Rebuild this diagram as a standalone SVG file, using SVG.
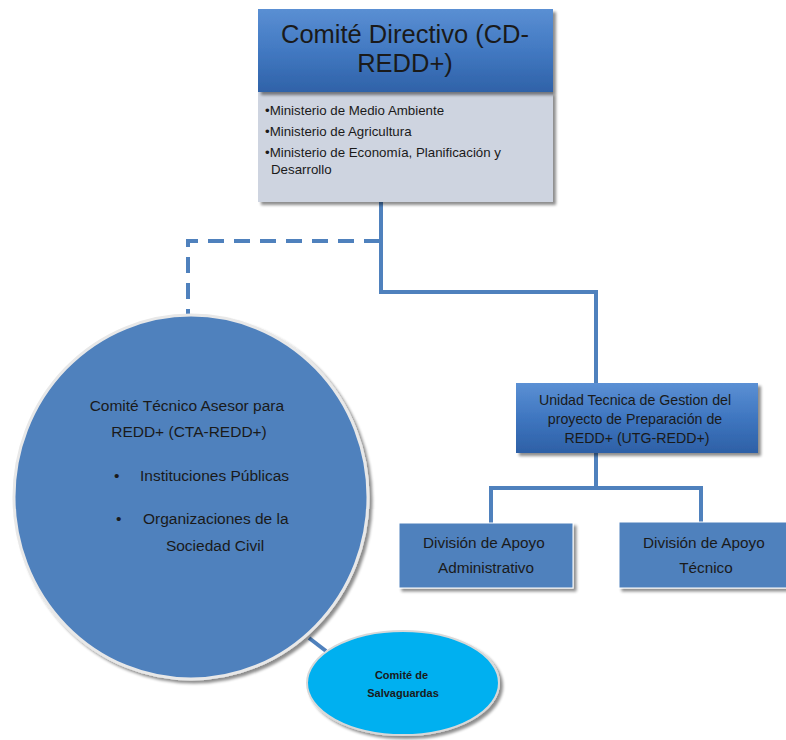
<svg xmlns="http://www.w3.org/2000/svg" width="786" height="740" viewBox="0 0 786 740">
<defs>
<linearGradient id="hdr" x1="0" y1="0" x2="0" y2="1">
<stop offset="0" stop-color="#5a8fd3"/>
<stop offset="0.5" stop-color="#4279c2"/>
<stop offset="1" stop-color="#2f62a8"/>
</linearGradient>
<linearGradient id="utg" x1="0" y1="0" x2="0" y2="1">
<stop offset="0" stop-color="#5b90d4"/>
<stop offset="0.5" stop-color="#3f76c0"/>
<stop offset="1" stop-color="#2d60a6"/>
</linearGradient>
<filter id="sh" x="-10%" y="-10%" width="130%" height="130%">
<feGaussianBlur in="SourceAlpha" stdDeviation="1.5"/>
<feOffset dx="3" dy="3" result="b"/>
<feComponentTransfer><feFuncA type="linear" slope="0.45"/></feComponentTransfer>
<feMerge><feMergeNode/><feMergeNode in="SourceGraphic"/></feMerge>
</filter>
</defs>
<style>
.t{font-family:"Liberation Sans",Arial,sans-serif;fill:#1a1a1a}
.c{stroke:#4f81bd;stroke-width:4;fill:none}
.blue{fill:#4f81bd}
</style>
<g id="connectors">
<path class="c" d="M381 202 V292 H596 V383"/>
<path class="c" d="M380 241 H188 V315" stroke-dasharray="16,10"/>
<path class="c" d="M596 453 V488 M491 523 V488 H701 V523"/>
<path class="c" d="M309 638 L326 651"/>
</g>
<g id="cd-redd">
<rect x="258" y="92" width="295" height="110" fill="#ced4e0" filter="url(#sh)"/>
<rect x="258" y="9" width="295" height="83" fill="url(#hdr)" filter="url(#sh)"/>
<text class="t" x="405" y="43" font-size="25.5" text-anchor="middle">Comité Directivo (CD-</text>
<text class="t" x="405" y="72" font-size="25.5" text-anchor="middle">REDD+)</text>
<text class="t" font-size="13.3">
<tspan x="265" y="115">•Ministerio de Medio Ambiente</tspan>
<tspan x="265" y="136">•Ministerio de Agricultura</tspan>
<tspan x="265" y="157">•Ministerio de Economía, Planificación y</tspan>
<tspan x="271" y="174">Desarrollo</tspan>
</text>
</g>
<g id="cta-redd">
<ellipse cx="191" cy="497" rx="177" ry="182" class="blue" stroke="#e8e8e8" stroke-width="3" filter="url(#sh)"/>
<text class="t" font-size="15.5" text-anchor="middle">
<tspan x="189" y="411">Comité Técnico Asesor para</tspan>
<tspan x="189" y="437">REDD+ (CTA-REDD+)</tspan>
</text>
<text class="t" font-size="15.5">
<tspan x="114" y="481">•</tspan>
<tspan x="140" y="481">Instituciones Públicas</tspan>
<tspan x="116" y="524">•</tspan>
<tspan x="143" y="524">Organizaciones de la</tspan>
</text>
<text class="t" x="215" y="551" font-size="15.5" text-anchor="middle">Sociedad Civil</text>
</g>
<g id="salvaguardas">
<ellipse cx="403" cy="683" rx="96" ry="52" fill="#00b0f0" stroke="#d8d8d8" stroke-width="2" filter="url(#sh)"/>
<text class="t" font-size="11" font-weight="bold" text-anchor="middle" fill="#000">
<tspan x="403" y="679">Comité de</tspan>
<tspan x="403" y="697">Salvaguardas</tspan>
</text>
</g>
<g id="utg-redd">
<rect x="516" y="383" width="242" height="70" fill="url(#utg)" filter="url(#sh)"/>
<text class="t" font-size="14.2" text-anchor="middle">
<tspan x="637" y="405">Unidad Tecnica de Gestion del</tspan>
<tspan x="637" y="424">proyecto de Preparación de</tspan>
<tspan x="637" y="443">REDD+ (UTG-REDD+)</tspan>
</text>
</g>
<g id="div-admin">
<rect x="399" y="523" width="174" height="65" class="blue" stroke="#ffffff" stroke-width="1" filter="url(#sh)"/>
<text class="t" font-size="15.3" text-anchor="middle">
<tspan x="486" y="548">División de Apoyo</tspan>
<tspan x="486" y="573">Administrativo</tspan>
</text>
</g>
<g id="div-tecnico">
<rect x="619" y="522" width="172" height="66" class="blue" stroke="#ffffff" stroke-width="1" filter="url(#sh)"/>
<text class="t" font-size="15.3" text-anchor="middle">
<tspan x="706" y="548">División de Apoyo</tspan>
<tspan x="706" y="573">Técnico</tspan>
</text>
</g>
</svg>
